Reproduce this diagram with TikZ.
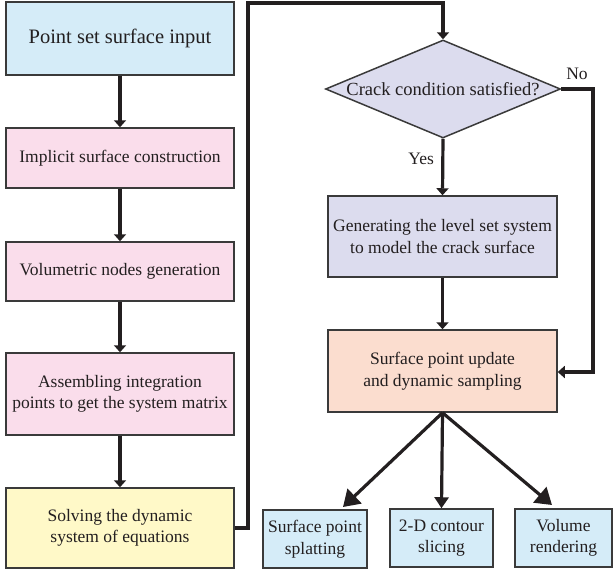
\documentclass[tikz,border=0pt]{standalone}
\usepackage{fontspec}
\setmainfont{Liberation Serif}
\usetikzlibrary{arrows.meta,shapes.geometric}
\definecolor{boxblue}{HTML}{D5ECF8}
\definecolor{boxpink}{HTML}{FADDEB}
\definecolor{boxlav}{HTML}{DCDCEE}
\definecolor{boxpeach}{HTML}{FBDDCF}
\definecolor{boxyellow}{HTML}{FFF9C8}
\definecolor{edge}{HTML}{3A3A3A}
\definecolor{ink}{HTML}{231F20}
\tikzset{
  stepbox/.style={draw=edge, line width=1.5pt, rectangle, align=center,
    inner sep=0pt, font=\fontsize{17.5}{21.5}\selectfont, text=ink},
  decision/.style={draw=edge, line width=1.5pt, diamond, aspect=2.4,
    inner sep=0pt, font=\fontsize{18.5}{22}\selectfont, text=ink, fill=boxlav},
  flow/.style={draw=ink, line width=3.2pt, -{Triangle[width=12pt,length=7pt]}},
  flowmid/.style={draw=ink, line width=3.2pt, -{Triangle[width=14pt,length=11pt]}},
  flowbig/.style={draw=ink, line width=3.2pt, -{Triangle[width=20pt,length=16pt]}},
  tag/.style={font=\fontsize{17.5}{21.5}\selectfont, text=ink},
}
\begin{document}
\begin{tikzpicture}[x=1pt,y=-1pt]
\useasboundingbox (0,0) rectangle (613,574);

% left column
\node[stepbox, fill=boxblue, minimum width=228pt, minimum height=73pt,
      font=\fontsize{20.5}{24}\selectfont] (input) at (120,38.5) {Point set surface input};
\node[stepbox, fill=boxpink, minimum width=228pt, minimum height=60pt] (implicit) at (120,158) {Implicit surface construction};
\node[stepbox, fill=boxpink, minimum width=228pt, minimum height=59pt] (volnodes) at (120,271.5) {Volumetric nodes generation};
\node[stepbox, fill=boxpink, minimum width=228pt, minimum height=82pt] (assemble) at (120,394) {Assembling integration\\points to get the system matrix};
\node[stepbox, fill=boxyellow, minimum width=228pt, minimum height=80pt] (solve) at (120,528) {Solving the dynamic\\system of equations};

% right column
\node[decision, minimum width=235pt, minimum height=98pt] (crack) at (443,89) {Crack condition satisfied?};
\node[stepbox, fill=boxlav, minimum width=229pt, minimum height=81pt] (levelset) at (442.5,236.5) {Generating the level set system\\to model the crack surface};
\node[stepbox, fill=boxpeach, minimum width=229pt, minimum height=82pt] (update) at (442.5,371) {Surface point update\\and dynamic sampling};

% output boxes
\node[stepbox, fill=boxblue, minimum width=104pt, minimum height=58pt] (splat) at (315,539) {Surface point\\splatting};
\node[stepbox, fill=boxblue, minimum width=103pt, minimum height=58pt] (slice) at (441.5,538) {2-D contour\\slicing};
\node[stepbox, fill=boxblue, minimum width=97pt, minimum height=58pt] (volrend) at (563.5,538) {Volume\\rendering};

% routing points
\coordinate (upL) at (248,3);
\coordinate (upR) at (443,3);
\coordinate (noR) at (593,89);
\coordinate (noD) at (593,372);

% connectors
\draw[flow] (input.south) -- (implicit.north);
\draw[flow] (implicit.south) -- (volnodes.north);
\draw[flow] (volnodes.south) -- (assemble.north);
\draw[flow] (assemble.south) -- (solve.north);
\draw[flow] (solve.east) -| (upL) -- (upR) -- (crack.north);
\draw[flow] (crack.south) -- node[tag, left=4pt, pos=0.35] {Yes} (levelset.north);
\draw[flow] (crack.east) -- (noR) -- (noD) -- (update.east |- noD);
\node[tag] (nolabel) at (577,74) {No};
\draw[flow] (levelset.south) -- (update.north);
\draw[flowbig] (update.south) -- (343,507);
\draw[flowmid] (update.south) -- (slice.north);
\draw[flowbig] (update.south) -- (552,505);
\end{tikzpicture}
\end{document}
